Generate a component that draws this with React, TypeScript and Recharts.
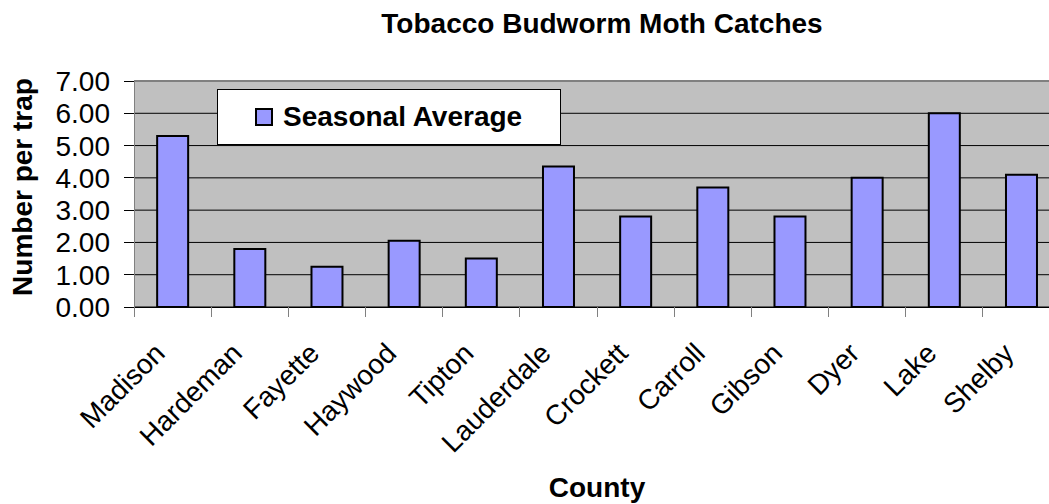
import React from "react";
import {
  Bar,
  BarChart,
  CartesianGrid,
  Legend,
  ReferenceLine,
  XAxis,
  YAxis,
} from "recharts";

const counties = [
  "Madison",
  "Hardeman",
  "Fayette",
  "Haywood",
  "Tipton",
  "Lauderdale",
  "Crockett",
  "Carroll",
  "Gibson",
  "Dyer",
  "Lake",
  "Shelby",
];
const seasonalAverage = [5.3, 1.8, 1.25, 2.05, 1.5, 4.35, 2.8, 3.7, 2.8, 4.0, 6.0, 4.1];
const yTicks = [0, 1, 2, 3, 4, 5, 6, 7];

const FONT = '"Liberation Sans", Arial, sans-serif';
const BAR_FILL = "#9999FF";

const chartData = counties.map((county, i) => ({
  county,
  average: seasonalAverage[i],
}));

type TickProps = {
  x?: number;
  y?: number;
  payload?: { value: string; offset?: number };
};

function CountyTick({ x = 0, y = 0, payload }: TickProps) {
  const half = payload?.offset ?? 38.6;
  const ax = x - 6;
  const ay = y + 48;
  return (
    <g>
      <line
        x1={x - half}
        x2={x - half}
        y1={y}
        y2={y + 10}
        stroke="#808080"
        shapeRendering="crispEdges"
      />
      <text
        x={ax}
        y={ay}
        transform={`rotate(-45 ${ax} ${ay})`}
        textAnchor="end"
        fontSize={28}
        fontFamily={FONT}
        fill="#000"
      >
        {payload?.value}
      </text>
    </g>
  );
}

function LegendBox() {
  return (
    <div
      style={{
        boxSizing: "border-box",
        width: 344,
        height: 56,
        background: "#fff",
        border: "1px solid #000",
        display: "flex",
        alignItems: "center",
        paddingLeft: 37,
        fontFamily: FONT,
        fontWeight: "bold",
        fontSize: 28,
        color: "#000",
      }}
    >
      <span
        style={{
          display: "inline-block",
          boxSizing: "border-box",
          width: 18,
          height: 18,
          background: BAR_FILL,
          border: "2px solid #000",
          marginRight: 10,
        }}
      />
      Seasonal Average
    </div>
  );
}

export default function App() {
  return (
    <div
      style={{
        position: "absolute",
        left: 0,
        top: 0,
        width: 1049,
        height: 504,
        overflow: "hidden",
        background: "#fff",
      }}
    >
      <BarChart
        width={1080}
        height={504}
        data={chartData}
        margin={{ top: 81, right: 20, bottom: 0, left: 54 }}
        barCategoryGap="30%"
      >
        <CartesianGrid
          vertical={false}
          horizontal={{ shapeRendering: "crispEdges" }}
          stroke="#000"
          fill="#C0C0C0"
          fillOpacity={1}
        />
        <XAxis
          dataKey="county"
          height={197}
          interval={0}
          tickSize={0}
          tickMargin={0}
          tickLine={false}
          axisLine={{ stroke: "#000", shapeRendering: "crispEdges" }}
          tick={<CountyTick />}
          label={{
            value: "County",
            position: "insideBottom",
            offset: 7,
            fontSize: 28,
            fontWeight: "bold",
            fontFamily: FONT,
            fill: "#000",
          }}
        />
        <YAxis
          width={80}
          domain={[0, 7]}
          ticks={yTicks}
          interval={0}
          tickFormatter={(v: number) => v.toFixed(2)}
          tickSize={10}
          tickMargin={14}
          tickLine={{ stroke: "#000", shapeRendering: "crispEdges" }}
          axisLine={{ stroke: "#808080", shapeRendering: "crispEdges" }}
          tick={{ fontSize: 28, fill: "#000", fontFamily: FONT }}
        />
        <ReferenceLine y={7} stroke="#808080" shapeRendering="crispEdges" />
        <Legend
          verticalAlign="middle"
          align="center"
          content={<LegendBox />}
          wrapperStyle={{ left: 217, top: 89, width: 344, height: 56 }}
        />
        <Bar
          dataKey="average"
          name="Seasonal Average"
          fill={BAR_FILL}
          stroke="#000"
          strokeWidth={2}
          isAnimationActive={false}
        />
      </BarChart>
      <svg
        width={1049}
        height={504}
        style={{ position: "absolute", left: 0, top: 0, pointerEvents: "none" }}
      >
        <text
          x={602}
          y={33}
          textAnchor="middle"
          fontSize={28}
          fontWeight="bold"
          fontFamily={FONT}
          fill="#000"
        >
          Tobacco Budworm Moth Catches
        </text>
        <text
          x={32}
          y={187}
          transform="rotate(-90 32 187)"
          textAnchor="middle"
          fontSize={28}
          fontWeight="bold"
          fontFamily={FONT}
          fill="#000"
        >
          Number per trap
        </text>
      </svg>
    </div>
  );
}
